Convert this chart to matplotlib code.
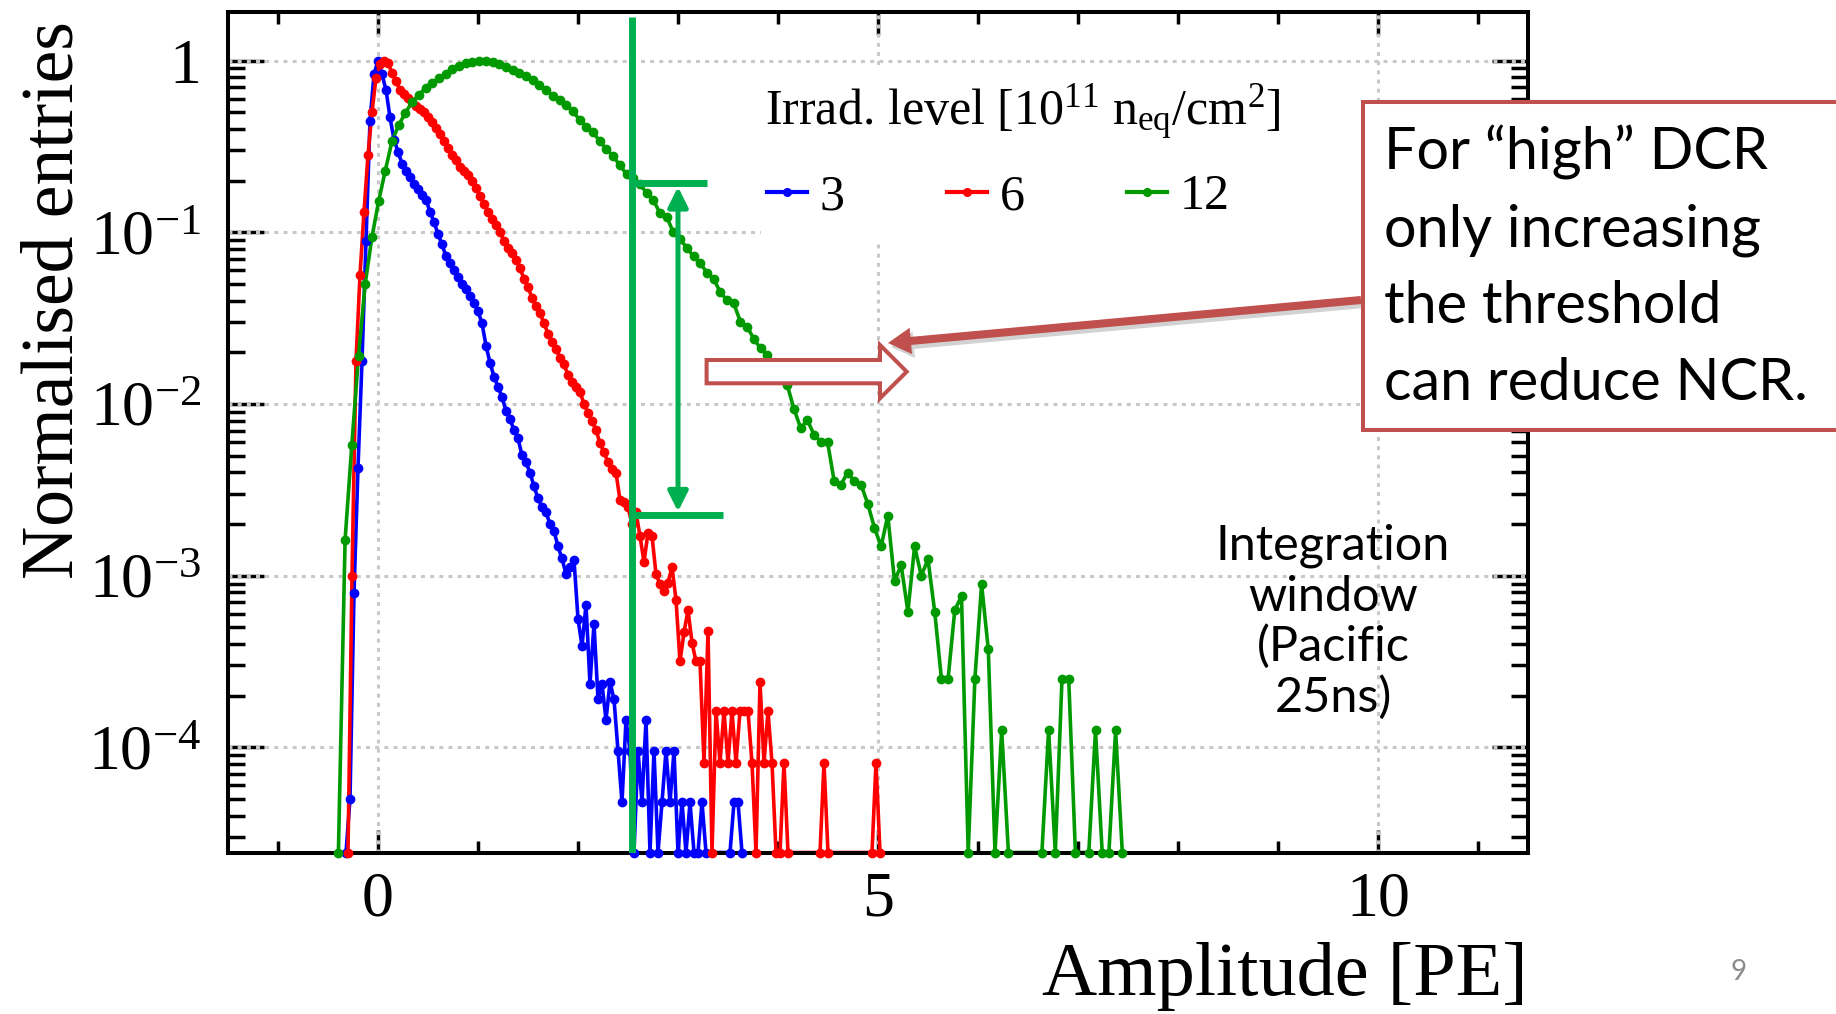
#!/usr/bin/env python3
"""Normalised amplitude spectra for three irradiation levels, with threshold callout."""

import matplotlib
matplotlib.use("Agg")
import matplotlib.pyplot as plt
import numpy as np
from matplotlib.lines import Line2D
from matplotlib.patches import ArrowStyle, FancyArrowPatch, Polygon, Rectangle
from matplotlib.ticker import LogLocator, MultipleLocator, NullFormatter

WIDTH, HEIGHT = 1836, 1014

# Spectra: log10 of the normalised entries per bin, None for an empty bin.
# Bin centres start at *_X0 and are spaced by *_STEP (PE).
BLUE_X0, BLUE_STEP = -0.32, 0.04
blue_log = [
    None, -4.30, -3.10, -2.37, -1.75, -1.05, -0.35, -0.08, 0.00, -0.08,
    -0.17, -0.33, -0.46, -0.53, -0.60, -0.645, -0.68, -0.72, -0.75, -0.78,
    -0.81, -0.88, -0.94, -1.01, -1.07, -1.14, -1.18, -1.22, -1.26, -1.30,
    -1.33, -1.37, -1.41, -1.46, -1.53, -1.66, -1.76, -1.84, -1.90, -1.96,
    -2.04, -2.09, -2.15, -2.20, -2.30, -2.34, -2.40, -2.48, -2.55, -2.60,
    -2.63, -2.70, -2.74, -2.83, -2.90, -2.99, -2.95, -2.91, -3.25, -3.41,
    -3.17, -3.63, -3.28, -3.72, -3.63, -3.84, -3.62, -3.72, -4.02, -4.32,
    -3.84, -4.02, None, -4.02, -4.32, -3.84, None, -4.02, None, -4.32,
    -4.02, -4.32, -4.02, None, -4.32, None, -4.32, None, None, -4.32,
    None, None, None, None, None, None, None, -4.32, -4.32, None,
]

RED_X0, RED_STEP = -0.30, 0.04
red_log = [
    None, -3.00, -1.75, -1.25, -0.88, -0.55, -0.30, -0.10, -0.02, 0.00,
    -0.015, -0.07, -0.12, -0.17, -0.195, -0.215, -0.24, -0.265, -0.28, -0.30,
    -0.33, -0.36, -0.39, -0.43, -0.47, -0.51, -0.55, -0.58, -0.62, -0.645,
    -0.665, -0.70, -0.74, -0.79, -0.835, -0.88, -0.92, -0.96, -1.00, -1.05,
    -1.09, -1.12, -1.16, -1.21, -1.27, -1.32, -1.38, -1.43, -1.47, -1.53,
    -1.59, -1.64, -1.68, -1.73, -1.77, -1.83, -1.87, -1.90, -1.93, -2.00,
    -2.05, -2.10, -2.15, -2.23, -2.28, -2.34, -2.38, -2.40, -2.56, -2.57,
    -2.60, -2.70, -2.63, -2.77, -2.92, -2.75, -2.77, -2.99, -3.05, -3.09,
    -3.04, -2.95, -3.14, -3.50, -3.33, -3.20, -3.39, -3.50, -3.50, -4.09,
    -3.32, None, -3.79, -4.09, -3.79, -4.09, -3.79, -4.09, -3.79, -3.79,
    -3.79, -4.09, None, -3.62, -4.09, -3.79, -4.09, None, None, -4.09,
    None, None, None, None, None, None, None, None, None, -4.09,
    None, None, None, None, None, None, None, None, None, None,
    None, None, -4.09, None,
]

GREEN_X0, GREEN_STEP = -0.396, 0.067
green_log = [
    None, -2.79, -2.24, -1.72, -1.30, -1.03, -0.82, -0.64, -0.47, -0.375,
    -0.305, -0.24, -0.20, -0.16, -0.13, -0.10, -0.078, -0.05, -0.03, -0.016,
    -0.007, 0.00, -0.002, -0.006, -0.018, -0.035, -0.056, -0.073, -0.09, -0.115,
    -0.142, -0.17, -0.205, -0.232, -0.258, -0.295, -0.345, -0.385, -0.415, -0.47,
    -0.515, -0.555, -0.61, -0.66, -0.684, -0.72, -0.77, -0.81, -0.89, -0.91,
    -1.00, -1.04, -1.09, -1.14, -1.18, -1.235, -1.27, -1.35, -1.395, -1.414,
    -1.52, -1.55, -1.62, -1.676, -1.715, -1.78, -1.84, -1.89, -2.03, -2.14,
    -2.094, -2.18, -2.22, -2.22, -2.45, -2.47, -2.40, -2.45, -2.47, -2.58,
    -2.72, -2.83, -2.65, -3.03, -2.94, -3.21, -2.83, -3.00, -2.905, -3.21,
    -3.60, -3.60, -3.20, -3.12, None, -3.60, -3.05, -3.43, None, -3.90,
    None, None, None, None, None, None, -3.90, None, -3.60, -3.60,
    None, None, None, -3.90, None, None, -3.90, None,
]

levels = ["3", "6", "12"]
level_colors = ["#0000ff", "#ff0000", "#009a00"]

y_ticks = [1e-4, 1e-3, 1e-2, 1e-1, 1.0]
y_tick_labels = [r"$\mathregular{10^{-4}}$", r"$\mathregular{10^{-3}}$",
                 r"$\mathregular{10^{-2}}$", r"$\mathregular{10^{-1}}$", "1"]
x_ticks = [0, 5, 10]
x_tick_labels = ["0", "5", "10"]

# threshold marks (PE, normalised entries)
threshold = 2.54
upper_rate, lower_rate = 0.193, 0.00225

box_lines = ["For \u201chigh\u201d DCR", "only increasing", "the threshold", "can reduce NCR."]
window_lines = ["Integration", "window", "(Pacific", "25ns)"]

Y_MIN, Y_MAX = 2.44e-5, 1.92
GRID = "#c8c8c8"
MARK_GREEN = "#00b050"
CALLOUT = "#c0504d"


def fig_xy(x, y):
    """Pixel position measured from the top left corner -> figure fraction."""
    return x / WIDTH, 1.0 - y / HEIGHT


def spectrum(x0, step, log_values, floor):
    x = x0 + step * np.arange(len(log_values))
    y = np.array([0.0 if v is None else 10.0 ** v for v in log_values])
    filled = y > 0
    # empty bins sit on the lower edge; only those next to a filled bin get a dot
    shown = filled.copy()
    shown[1:] |= filled[:-1]
    shown[:-1] |= filled[1:]
    return x, np.where(filled, y, floor), shown


def main():
    plt.rcParams["font.family"] = "Liberation Serif"
    plt.rcParams["mathtext.fontset"] = "custom"
    plt.rcParams["mathtext.rm"] = "Liberation Serif"
    plt.rcParams["mathtext.it"] = "Liberation Serif:italic"

    fig = plt.figure(figsize=(WIDTH / 100, HEIGHT / 100), dpi=100)
    ax = fig.add_axes([228 / WIDTH, 1 - 852.5 / HEIGHT, 1300 / WIDTH, 840.5 / HEIGHT])

    series = [(BLUE_X0, BLUE_STEP, blue_log), (RED_X0, RED_STEP, red_log),
              (GREEN_X0, GREEN_STEP, green_log)]
    for (x0, step, logs), color in zip(series, level_colors):
        x, y, shown = spectrum(x0, step, logs, Y_MIN)
        ax.plot(x, y, color=color, lw=2.6, zorder=2)
        ax.plot(x[shown], y[shown], ls="none", marker="o", ms=6, color=color,
                zorder=3, clip_on=False)

    ax.set_yscale("log")
    ax.set_xlim(-1.5, 11.5)
    ax.set_ylim(Y_MIN, Y_MAX)
    ax.set_yticks(y_ticks, y_tick_labels)
    ax.yaxis.set_minor_locator(LogLocator(base=10, subs=np.arange(2, 10), numticks=50))
    ax.yaxis.set_minor_formatter(NullFormatter())
    ax.set_xticks(x_ticks, x_tick_labels)
    ax.xaxis.set_minor_locator(MultipleLocator(1))

    ax.tick_params(which="both", direction="in", top=True, right=True, width=2.5,
                   labelsize=46)
    ax.tick_params(axis="y", which="major", length=26, pad=19)
    ax.tick_params(axis="y", which="minor", length=12)
    ax.tick_params(axis="x", which="major", length=16.5, pad=14)
    ax.tick_params(axis="x", which="minor", length=8.6)
    for spine in ax.spines.values():
        spine.set_linewidth(2.9)

    # dotted grid, drawn over the tick marks
    for v in y_ticks:
        ax.axhline(v, color=GRID, lw=2.2, ls=(0, (1.3, 1.7)), zorder=1.6)
    for v in x_ticks:
        ax.axvline(v, color=GRID, lw=2.2, ls=(0, (1.3, 1.7)), zorder=1.6)

    # legend sits on a white patch that hides the grid behind it
    ax.add_patch(Rectangle(fig_xy(761, 240), 602 / WIDTH, 175 / HEIGHT,
                           transform=fig.transFigure, facecolor="white",
                           edgecolor="none", zorder=1.8))
    handles = [Line2D([], [], color=c, lw=3, marker="o", ms=5.5) for c in level_colors]
    leg = ax.legend(handles, levels, ncol=3, loc="center left",
                    bbox_to_anchor=fig_xy(767, 197), bbox_transform=fig.transFigure,
                    frameon=False, fontsize=36, handlelength=0.8, handletextpad=0.25,
                    columnspacing=2.05, borderpad=0, borderaxespad=0)
    leg.set_zorder(5)
    fig.text(*fig_xy(764.7, 125),
             r"Irrad. level [$\mathregular{10^{11}\ n_{eq}/cm^{2}}$]",
             fontsize=36, ha="left", va="baseline")

    # threshold line and the rate reduction it buys
    ax.axvline(threshold, ymin=0, ymax=0.994, color=MARK_GREEN, lw=5, zorder=4,
               solid_capstyle="butt")
    ax.plot([threshold, 3.29], [upper_rate, upper_rate], color=MARK_GREEN, lw=5,
            zorder=4, solid_capstyle="butt")
    ax.plot([threshold, 3.45], [lower_rate, lower_rate], color=MARK_GREEN, lw=5,
            zorder=4, solid_capstyle="butt")
    ax.add_patch(FancyArrowPatch((3.0, 0.00236), (3.0, 0.184),
                                 arrowstyle=ArrowStyle("<|-|>", head_length=12, head_width=6),
                                 mutation_scale=1, lw=3.6, color=MARK_GREEN,
                                 shrinkA=0, shrinkB=0, zorder=4))

    fig.text(*fig_xy(73, 300), "Normalised entries", rotation=90,
             rotation_mode="anchor", ha="center", va="baseline", fontsize=53)
    fig.text(*fig_xy(1528, 995), "Amplitude [PE]", ha="right", va="baseline",
             fontsize=55)

    # hollow block arrow pointing at the threshold shift
    block = [(706.6, 360), (880, 360), (880, 345), (906.7, 371.7),
             (880, 398.3), (880, 383.3), (706.6, 383.3)]
    fig.add_artist(Polygon([fig_xy(*p) for p in block], closed=True,
                           transform=fig.transFigure, facecolor="white",
                           edgecolor=CALLOUT, lw=2.9, joinstyle="miter", zorder=5))

    # callout arrow with a soft drop shadow
    style = ArrowStyle("simple", head_length=16.5, head_width=19, tail_width=5.8)
    for dx, dy, col, alpha in [(3, 4, "#808080", 0.35), (0, 0, CALLOUT, 1.0)]:
        fig.add_artist(FancyArrowPatch(fig_xy(1361 + dx, 300 + dy), fig_xy(888 + dx, 343 + dy),
                                       transform=fig.transFigure, arrowstyle=style,
                                       mutation_scale=1, facecolor=col, edgecolor="none",
                                       alpha=alpha, shrinkA=0, shrinkB=0, zorder=5))

    fig.add_artist(Rectangle(fig_xy(1363, 430), 500 / WIDTH, 328 / HEIGHT,
                             transform=fig.transFigure, facecolor="white",
                             edgecolor=CALLOUT, lw=2.9, zorder=6))
    for i, line in enumerate(box_lines):
        fig.text(*fig_xy(1384, 170 + 76.7 * i), line, family="Lato", fontsize=41.5,
                 ha="left", va="baseline", zorder=7)

    for i, line in enumerate(window_lines):
        fig.text(*fig_xy(1333, 560 + 50.6 * i), line, family="Lato", fontsize=35,
                 ha="center", va="baseline")

    fig.text(*fig_xy(1739, 972), "9", family="Lato", fontsize=20, color="#8c8c8c",
             ha="center", va="center")

    fig.savefig("out.png", dpi=100)
    plt.close(fig)


if __name__ == "__main__":
    main()
